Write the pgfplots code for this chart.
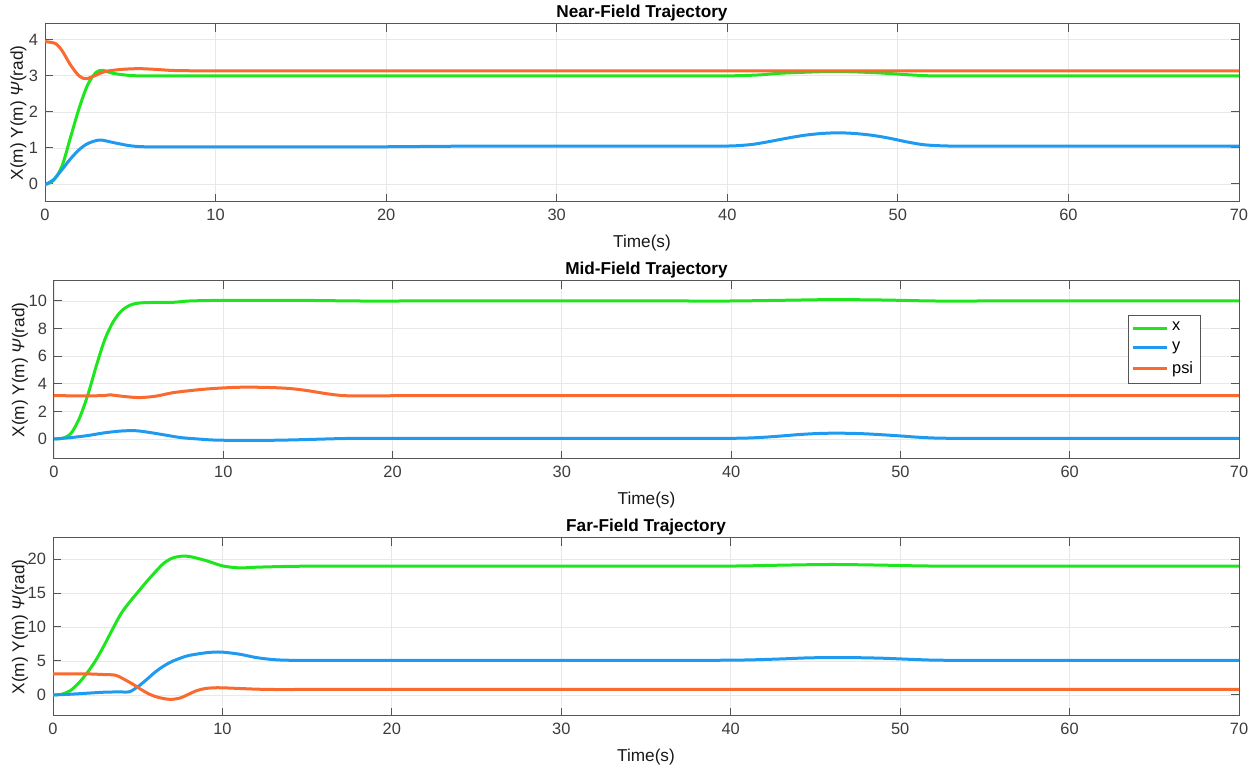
\documentclass[border=0pt]{standalone}
\usepackage{fontspec}
\setmainfont{Liberation Sans}
\usepackage{pgfplots}
\pgfplotsset{compat=1.18}
\definecolor{cx}{RGB}{30,230,30}
\definecolor{cy}{RGB}{30,155,240}
\definecolor{cp}{RGB}{250,105,45}
\definecolor{axc}{RGB}{85,85,85}
\definecolor{tkc}{RGB}{60,60,60}
\pgfplotsset{
  myax/.style={
    scale only axis, height=89pt,
    xmin=0, xmax=70, xtick={0,10,...,70},
    grid=major, major grid style={color=black!9, line width=0.4pt},
    axis line style={axc, line width=0.5pt},
    tick style={axc, line width=0.5pt}, tick align=inside,
    major tick length=4pt,
    xtick pos=both, ytick pos=both,
    /pgf/number format/assume math mode=true,
    ticklabel style={font=\fontsize{8.2}{10}\selectfont, text=tkc},
    label style={font=\fontsize{8.6}{10}\selectfont, text=black!90},
    title style={font=\fontsize{8.6}{10}\selectfont\bfseries, at={(axis description cs:0.5,1)}, anchor=base, yshift=-3pt},
    xlabel={Time(s)},
    xlabel style={at={(axis description cs:0.5,0)}, anchor=center, yshift=-20.5pt},
    ylabel={X(m) Y(m) \textit{Ψ}(rad)},
    every axis plot/.append style={line width=1.5pt, smooth, no markers, line join=round},
  }
}
\begin{document}
\begin{tikzpicture}
\path[use as bounding box] (0,0) rectangle (628.5pt,384.5pt);
% Near-field
\begin{axis}[myax, at={(22.5pt,283.5pt)}, anchor=south west, width=597pt,
  ymin=-0.5, ymax=4.44, ytick={0,1,2,3,4},
  ylabel style={at={(axis description cs:0,0.5)}, anchor=center, yshift=13.25pt},
  title={Near-Field Trajectory}]
\addplot[cx] coordinates {(0,-0.02)(0.5,0.1)(1,0.5)(1.5,1.3)(2,2.1)(2.5,2.75)(3,3.1)(3.4,3.15)(4,3.07)(5,3.01)(6,3.0)(8,3.0)(11,3.0)(15,3.0)(20,3.0)(25,3.0)(30,3.0)(34,3.0)(37,3.0)(39,3.0)(40,3.0)(41,3.01)(42,3.03)(43,3.07)(44.5,3.1)(46,3.12)(47.5,3.11)(49,3.08)(50,3.05)(51,3.02)(52,3.0)(53,3.0)(55,3.0)(58,3.0)(62,3.0)(66,3.0)(70,3.0)};
\addplot[cy] coordinates {(0,-0.02)(0.5,0.12)(1,0.4)(1.5,0.7)(2,0.95)(2.5,1.12)(3.2,1.22)(4,1.15)(5,1.06)(6,1.03)(8,1.03)(11,1.03)(15,1.03)(19,1.03)(22,1.04)(25,1.05)(29,1.05)(33,1.05)(36,1.05)(38,1.05)(39.5,1.05)(40.5,1.06)(41.5,1.1)(42.5,1.18)(43.5,1.27)(44.5,1.35)(45.5,1.4)(46.5,1.42)(47.5,1.4)(48.5,1.35)(49.5,1.27)(50.5,1.17)(51.5,1.09)(52.5,1.06)(53.5,1.05)(55,1.05)(58,1.05)(62,1.05)(66,1.05)(70,1.05)};
\addplot[cp] coordinates {(0,3.95)(0.6,3.9)(1,3.7)(1.5,3.3)(2,3.0)(2.4,2.92)(3,3.02)(3.5,3.12)(4.5,3.18)(5.5,3.2)(6.5,3.18)(7.5,3.15)(9,3.14)(11,3.14)(14,3.14)(18,3.14)(24,3.14)(30,3.14)(40,3.14)(50,3.14)(60,3.14)(70,3.14)};
\end{axis}
% Mid-field
\begin{axis}[myax, at={(27pt,155pt)}, anchor=south west, width=592.5pt,
  ymin=-1.45, ymax=11.45, ytick={0,2,...,10},
  ylabel style={at={(axis description cs:0,0.5)}, anchor=center, yshift=17pt},
  title={Mid-Field Trajectory},
  legend style={at={(axis description cs:0.906,0.81)}, anchor=north west, draw=axc, line width=0.4pt, font=\fontsize{8.2}{9.5}\selectfont, inner sep=1.5pt, row sep=0pt},
  legend cell align=left]
\addplot[cx] coordinates {(0,0)(0.5,0.05)(1,0.4)(1.5,1.5)(2,3.2)(2.5,5.3)(3,7.2)(3.5,8.5)(4,9.3)(4.5,9.7)(5,9.85)(6,9.9)(7,9.9)(8,10.0)(10,10.05)(12,10.05)(15,10.04)(18,10.0)(21,10.0)(25,10.0)(30,10.0)(34,10.0)(37,10.0)(40,10.0)(43,10.05)(46,10.1)(49,10.07)(52,10.0)(55,10.0)(60,10.0)(65,10.0)(70,10.0)};
\addplot[cy] coordinates {(0,0)(1,0.1)(2,0.25)(3,0.45)(4,0.58)(4.8,0.6)(5.5,0.5)(6.5,0.3)(7.5,0.1)(8.5,0)(9.5,-0.08)(11,-0.1)(12.5,-0.1)(14,-0.07)(15.5,-0.02)(17,0.03)(18.5,0.05)(20.5,0.05)(23,0.05)(27,0.05)(31,0.05)(35,0.05)(38,0.05)(40,0.05)(41,0.07)(42,0.13)(43,0.22)(44,0.32)(45,0.39)(46,0.42)(47,0.41)(48,0.37)(49,0.3)(50,0.22)(51,0.13)(52,0.07)(53,0.05)(55,0.05)(58,0.05)(62,0.05)(66,0.05)(70,0.05)};
\addplot[cp] coordinates {(0,3.14)(1,3.13)(2,3.12)(3,3.15)(3.3,3.2)(4,3.1)(5,3.0)(6,3.1)(7,3.35)(8,3.5)(9,3.62)(10,3.7)(11,3.75)(12,3.75)(13,3.72)(14,3.65)(15,3.5)(16,3.3)(17,3.15)(18,3.12)(19.5,3.13)(21,3.14)(24,3.14)(28,3.14)(33,3.14)(40,3.14)(50,3.14)(60,3.14)(70,3.14)};
\legend{x,y,psi}
\end{axis}
% Far-field
\begin{axis}[myax, at={(26.5pt,26.5pt)}, anchor=south west, width=593pt,
  ymin=-3.1, ymax=23.1, ytick={0,5,...,20},
  ylabel style={at={(axis description cs:0,0.5)}, anchor=center, yshift=16.5pt},
  title={Far-Field Trajectory}]
\addplot[cx] coordinates {(0,0)(0.5,0.1)(1,0.6)(1.5,1.7)(2,3.2)(2.5,5.0)(3,7.2)(3.5,9.6)(4,11.9)(4.5,13.6)(5,15.1)(5.5,16.6)(6,18)(6.5,19.3)(7,20.1)(7.5,20.4)(8,20.4)(9,19.8)(10,19.0)(11,18.7)(12,18.8)(13.5,18.9)(15,18.95)(17.5,18.95)(20,18.95)(24,18.95)(28,18.95)(32,18.95)(36,18.95)(39,18.95)(41,19.0)(43,19.1)(46,19.2)(49,19.1)(51,19.0)(53,18.95)(56,18.95)(60,18.95)(65,18.95)(70,18.95)};
\addplot[cy] coordinates {(0,0)(1,0.1)(2,0.25)(3,0.4)(4,0.45)(4.5,0.45)(5,1.2)(5.5,2.2)(6,3.3)(6.5,4.2)(7,4.9)(7.5,5.4)(8,5.8)(9,6.2)(9.5,6.3)(10,6.3)(11,6.0)(12,5.5)(13,5.2)(14,5.1)(15.5,5.1)(17.5,5.1)(20,5.1)(24,5.1)(28,5.1)(32,5.1)(36,5.1)(39,5.1)(41,5.15)(43,5.3)(44.5,5.45)(46,5.5)(47.5,5.48)(49,5.4)(50.5,5.25)(52,5.12)(53.5,5.1)(56,5.1)(60,5.1)(65,5.1)(70,5.1)};
\addplot[cp] coordinates {(0,3.1)(1,3.1)(2,3.1)(3,3.0)(3.7,2.9)(4.2,2.3)(4.7,1.6)(5.2,0.8)(5.7,0.1)(6.2,-0.35)(6.9,-0.65)(7.5,-0.45)(8,0.1)(8.5,0.65)(9,0.95)(9.5,1.05)(10,1.05)(11,0.95)(12,0.85)(13,0.8)(14.5,0.8)(16.5,0.8)(19,0.8)(23,0.8)(28,0.8)(35,0.8)(45,0.8)(55,0.8)(70,0.8)};
\end{axis}
\end{tikzpicture}
\end{document}
